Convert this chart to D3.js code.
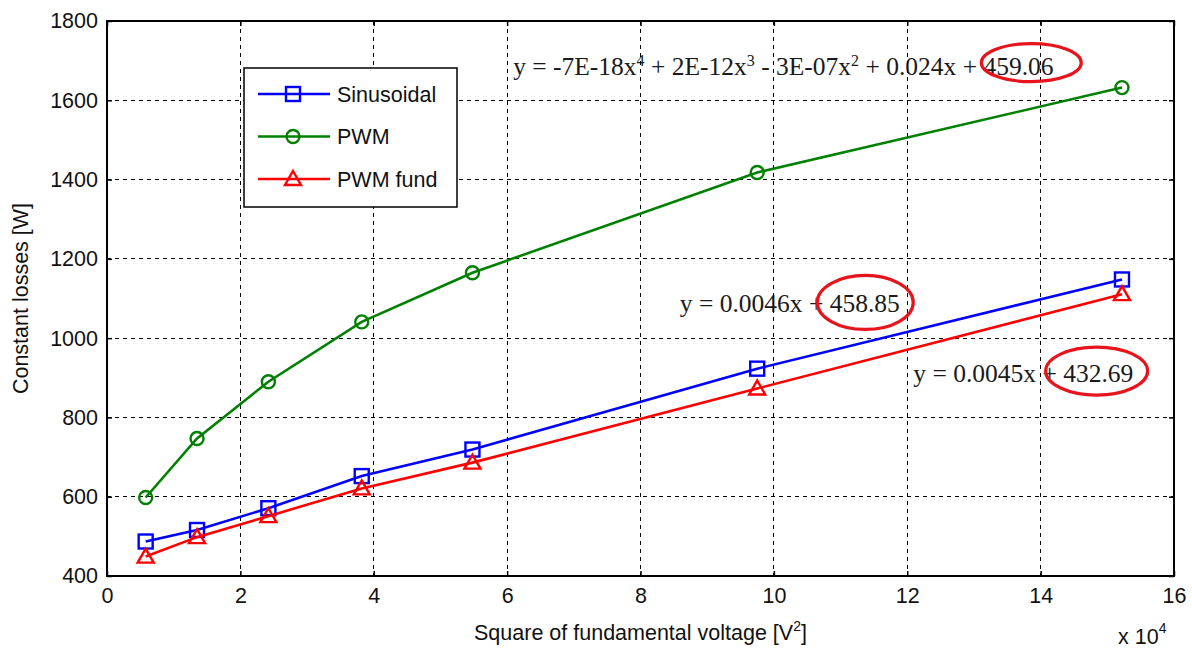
<!DOCTYPE html>
<html>
<head>
<meta charset="utf-8">
<script src="https://cdn.jsdelivr.net/npm/d3@7"></script>
<style>
  html, body { margin: 0; padding: 0; background: #fff; }
  svg { display: block; }
</style>
</head>
<body>
<svg id="chart" width="1192" height="648"></svg>
<script>
// Square of fundamental voltage [V^2]
const voltageSq = [5800, 13500, 24200, 38200, 54800, 97500, 152200];
// Constant losses [W] per supply type
const sinusoidal = [487, 516, 571, 652, 719, 923, 1148];
const pwm        = [598, 747, 890, 1041, 1165, 1418, 1632];
const pwmFund    = [449, 498, 551, 621, 686, 873, 1111];

const xTicks = [0, 2, 4, 6, 8, 10, 12, 14, 16];          // x 10^4
const yTicks = [400, 600, 800, 1000, 1200, 1400, 1600, 1800];

const seriesNames = ["Sinusoidal", "PWM", "PWM fund"];
const seriesColors = ["#0000ff", "#008000", "#ff0000"];
const seriesMarkers = ["square", "circle", "triangle"];

// Trend-line equations; pieces flagged "sup" are exponents
const fitTexts = [
  { parts: [["y = -7E-18x", ""], ["4", "sup"], [" + 2E-12x", ""], ["3", "sup"], [" - 3E-07x", ""], ["2", "sup"], [" + 0.024x + 459.06", ""]], x: 60900, y: 1664 },
  { parts: [["y = 0.0046x + 458.85", ""]], x: 85900, y: 1067 },
  { parts: [["y = 0.0045x + 432.69", ""]], x: 120900, y: 890 }
];
// Red ellipses around the intercepts (centre in data units, radii in px)
const rings = [
  { cx: 138600, cy: 1695, rx: 50, ry: 19 },
  { cx: 113700, cy: 1090, rx: 48, ry: 27 },
  { cx: 148400, cy: 917, rx: 51, ry: 24 }
];

const svg = d3.select("#chart");
const L = 107, R = 1174, T = 21, B = 576;
const x = d3.scaleLinear().domain([0, 160000]).range([L, R]);
const y = d3.scaleLinear().domain([400, 1800]).range([B, T]);

const sans = "'Liberation Sans', Arial, sans-serif";
const serif = "'Liberation Serif', 'Times New Roman', serif";
const fs = 21.5;

// equation texts (underneath the grid)
const eqG = svg.append("g");
fitTexts.forEach(f => {
  const t = eqG.append("text")
    .attr("x", x(f.x)).attr("y", y(f.y))
    .attr("font-family", serif).attr("font-size", 25.5).attr("fill", "#1a1a1a");
  let lift = 0;
  f.parts.forEach(([s, kind]) => {
    const sp = t.append("tspan").text(s);
    if (kind === "sup") {
      sp.attr("font-size", 16).attr("dy", -9);
      lift = 9;
    } else if (lift) {
      sp.attr("dy", lift);
      lift = 0;
    }
  });
});

// grid
const grid = svg.append("g").attr("stroke", "#000").attr("stroke-width", 1)
  .attr("stroke-dasharray", "4,4").attr("shape-rendering", "crispEdges");
xTicks.slice(1, -1).forEach(v => {
  grid.append("line").attr("x1", x(v * 1e4)).attr("x2", x(v * 1e4)).attr("y1", T).attr("y2", B);
});
yTicks.slice(1, -1).forEach(v => {
  grid.append("line").attr("x1", L).attr("x2", R).attr("y1", y(v)).attr("y2", y(v));
});

// axes via d3 axis generators (inward ticks)
const axB = svg.append("g").attr("transform", `translate(0,${B})`)
  .call(d3.axisBottom(x).tickValues(xTicks.map(v => v * 1e4)).tickSizeInner(-5).tickSizeOuter(0)
    .tickPadding(12).tickFormat(d => d / 1e4));
const axT = svg.append("g").attr("transform", `translate(0,${T})`)
  .call(d3.axisTop(x).tickValues(xTicks.map(v => v * 1e4)).tickSizeInner(-5).tickSizeOuter(0).tickFormat(""));
const axL = svg.append("g").attr("transform", `translate(${L},0)`)
  .call(d3.axisLeft(y).tickValues(yTicks).tickSizeInner(-5).tickSizeOuter(0).tickPadding(9)
    .tickFormat(d3.format("d")));
const axR = svg.append("g").attr("transform", `translate(${R},0)`)
  .call(d3.axisRight(y).tickValues(yTicks).tickSizeInner(-5).tickSizeOuter(0).tickFormat(""));
[axB, axT, axL, axR].forEach(a => {
  a.select(".domain").remove();
  a.selectAll("line").attr("stroke", "#000").attr("stroke-width", 1.5);
  a.selectAll("text").attr("font-family", sans).attr("font-size", fs).attr("fill", "#111");
});

// plot box
svg.append("rect").attr("x", L).attr("y", T).attr("width", R - L).attr("height", B - T)
  .attr("fill", "none").attr("stroke", "#000").attr("stroke-width", 2);

// markers
function drawMarker(g, kind, cx, cy, color) {
  if (kind === "square") {
    g.append("rect").attr("x", cx - 7).attr("y", cy - 7).attr("width", 14).attr("height", 14)
      .attr("fill", "none").attr("stroke", color).attr("stroke-width", 2.4);
  } else if (kind === "circle") {
    g.append("circle").attr("cx", cx).attr("cy", cy).attr("r", 6.5)
      .attr("fill", "none").attr("stroke", color).attr("stroke-width", 2.4);
  } else {
    g.append("path").attr("d", `M${cx},${cy - 8}L${cx + 8},${cy + 6}L${cx - 8},${cy + 6}Z`)
      .attr("fill", "none").attr("stroke", color).attr("stroke-width", 2.4).attr("stroke-linejoin", "miter");
  }
}

const allSeries = [sinusoidal, pwm, pwmFund];
const line = d3.line().x(d => x(d[0])).y(d => y(d[1]));
allSeries.forEach((vals, i) => {
  const pts = voltageSq.map((v, j) => [v, vals[j]]);
  const g = svg.append("g");
  g.append("path").attr("d", line(pts)).attr("fill", "none")
    .attr("stroke", seriesColors[i]).attr("stroke-width", 2.6);
  pts.forEach(p => drawMarker(g, seriesMarkers[i], x(p[0]), y(p[1]), seriesColors[i]));
});

// red ellipses
rings.forEach(r => {
  svg.append("ellipse").attr("cx", x(r.cx)).attr("cy", y(r.cy)).attr("rx", r.rx).attr("ry", r.ry)
    .attr("fill", "none").attr("stroke", "#e8141c").attr("stroke-width", 3.2);
});

// legend
const lg = svg.append("g");
lg.append("rect").attr("x", 244).attr("y", 68).attr("width", 213).attr("height", 139)
  .attr("fill", "#fff").attr("stroke", "#000").attr("stroke-width", 1.5);
seriesNames.forEach((name, i) => {
  const ry = 94 + i * 42.5;
  lg.append("line").attr("x1", 258).attr("x2", 330).attr("y1", ry).attr("y2", ry)
    .attr("stroke", seriesColors[i]).attr("stroke-width", 2.6);
  drawMarker(lg, seriesMarkers[i], 293, ry, seriesColors[i]);
  lg.append("text").attr("x", 337).attr("y", ry).attr("dy", "0.36em")
    .attr("font-family", sans).attr("font-size", fs).attr("fill", "#111").text(name);
});

// axis titles
const xt = svg.append("text").attr("x", (L + R) / 2).attr("y", 640).attr("text-anchor", "middle")
  .attr("font-family", sans).attr("font-size", fs).attr("fill", "#111");
xt.append("tspan").text("Square of fundamental voltage [V");
xt.append("tspan").attr("font-size", 14).attr("dy", -9).text("2");
xt.append("tspan").attr("dy", 9).text("]");

svg.append("text").attr("transform", `translate(28,${(T + B) / 2}) rotate(-90)`)
  .attr("text-anchor", "middle").attr("font-family", sans).attr("font-size", fs).attr("fill", "#111")
  .text("Constant losses [W]");

const sc = svg.append("text").attr("x", 1118).attr("y", 644)
  .attr("font-family", sans).attr("font-size", fs).attr("fill", "#111");
sc.append("tspan").text("x 10");
sc.append("tspan").attr("font-size", 14).attr("dy", -11).text("4");
</script>
</body>
</html>
